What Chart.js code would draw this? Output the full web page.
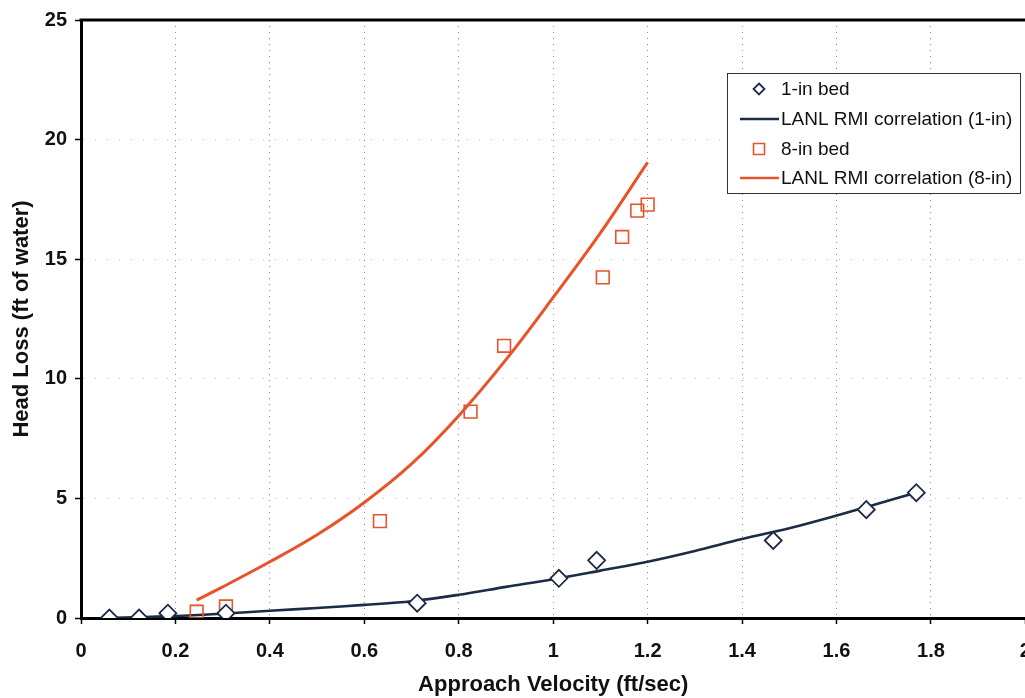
<!DOCTYPE html>
<html>
<head>
<meta charset="utf-8">
<script src="https://cdn.jsdelivr.net/npm/chart.js@4/dist/chart.umd.min.js"></script>
<style>
  html, body { margin: 0; padding: 0; background: #ffffff; overflow: hidden; width: 1025px; height: 698px; }
  #wrap { position: absolute; left: 0; top: 0; width: 1036px; height: 698px; }
</style>
</head>
<body>
<div id="wrap"><canvas id="c" width="1036" height="698"></canvas></div>
<script>
// ---- data ----
const bed1Velocity = [0.06, 0.123, 0.184, 0.307, 0.712, 1.012, 1.092, 1.466, 1.663, 1.769];
const bed1HeadLoss = [0.0, 0.0, 0.2, 0.2, 0.62, 1.66, 2.41, 3.24, 4.53, 5.24];

const corr1Velocity = [0.06, 0.2, 0.3, 0.4, 0.5, 0.6, 0.7, 0.8, 0.9, 1.0, 1.1, 1.2, 1.3, 1.4, 1.5, 1.6, 1.7, 1.78];
const corr1HeadLoss = [0.0, 0.08, 0.18, 0.3, 0.42, 0.55, 0.7, 0.97, 1.3, 1.62, 1.98, 2.35, 2.8, 3.3, 3.75, 4.28, 4.85, 5.3];

const bed8Velocity = [0.245, 0.307, 0.633, 0.825, 0.896, 1.105, 1.146, 1.178, 1.20];
const bed8HeadLoss = [0.26, 0.48, 4.05, 8.63, 11.38, 14.24, 15.93, 17.03, 17.28];

const corr8Velocity = [0.245, 0.3, 0.4, 0.5, 0.6, 0.7, 0.8, 0.9, 1.0, 1.1, 1.2];
const corr8HeadLoss = [0.75, 1.3, 2.35, 3.48, 4.83, 6.44, 8.46, 10.8, 13.4, 16.1, 19.05];

const xTickLabels = ['0', '0.2', '0.4', '0.6', '0.8', '1', '1.2', '1.4', '1.6', '1.8', '2'];
const yTickLabels = ['0', '5', '10', '15', '20', '25'];

const seriesNames = ['1-in bed', 'LANL RMI correlation (1-in)', '8-in bed', 'LANL RMI correlation (8-in)'];
const xTitle = 'Approach Velocity (ft/sec)';
const yTitle = 'Head Loss (ft of water)';

// ---- styling ----
const NAVY = '#1d2b47';
const ORANGE = '#e8532b';
const FONT = 'Liberation Sans, Arial, Helvetica, sans-serif';

const pts = (xs, ys) => xs.map((x, i) => ({ x: x, y: ys[i] }));

const topBorder = {
  id: 'topBorder',
  afterDraw(chart) {
    const { ctx, chartArea } = chart;
    ctx.save();
    ctx.strokeStyle = '#000';
    ctx.lineWidth = 3;
    ctx.beginPath();
    ctx.moveTo(chartArea.left - 1.5, chartArea.top);
    ctx.lineTo(chartArea.right + 5, chartArea.top);
    ctx.stroke();
    ctx.restore();
  }
};

const boxLegend = {
  id: 'boxLegend',
  afterDraw(chart) {
    const ctx = chart.ctx;
    const bx = 727, by = 73, bw = 293, bh = 120;
    ctx.save();
    ctx.fillStyle = '#ffffff';
    ctx.fillRect(bx, by, bw, bh);
    ctx.strokeStyle = '#333';
    ctx.lineWidth = 1;
    ctx.strokeRect(bx + 0.5, by + 0.5, bw, bh);
    const rows = [89, 119, 149, 178];
    ctx.font = '19px ' + FONT;
    ctx.textBaseline = 'middle';
    ctx.textAlign = 'left';
    chart.data.datasets.forEach((ds, i) => {
      const y = rows[i];
      if (ds.showLine) {
        ctx.strokeStyle = ds.borderColor;
        ctx.lineWidth = 2.5;
        ctx.beginPath();
        ctx.moveTo(740, y);
        ctx.lineTo(779, y);
        ctx.stroke();
      } else {
        ctx.save();
        ctx.fillStyle = '#fff';
        ctx.strokeStyle = ds.pointBorderColor;
        ctx.lineWidth = ds.pointBorderWidth;
        ctx.beginPath();
        const r = ds.legendRadius;
        if (ds.pointStyle === 'rectRot') {
          ctx.moveTo(759, y - r); ctx.lineTo(759 + r, y); ctx.lineTo(759, y + r); ctx.lineTo(759 - r, y); ctx.closePath();
        } else {
          ctx.rect(759 - r, y - r, 2 * r, 2 * r);
        }
        ctx.fill();
        ctx.stroke();
        ctx.restore();
      }
      ctx.fillStyle = '#111';
      ctx.fillText(ds.label, 781, y + 1);
    });
    ctx.restore();
  }
};

new Chart(document.getElementById('c'), {
  type: 'scatter',
  data: {
    datasets: [
      {
        label: seriesNames[0],
        data: pts(bed1Velocity, bed1HeadLoss),
        showLine: false,
        pointStyle: 'rectRot',
        pointRadius: 8.5,
        legendRadius: 5.5,
        pointBackgroundColor: '#ffffff',
        pointBorderColor: NAVY,
        pointBorderWidth: 1.8,
        order: 0
      },
      {
        label: seriesNames[1],
        data: pts(corr1Velocity, corr1HeadLoss),
        showLine: true,
        borderColor: NAVY,
        borderWidth: 2.6,
        pointRadius: 0,
        tension: 0.35,
        order: 2
      },
      {
        label: seriesNames[2],
        data: pts(bed8Velocity, bed8HeadLoss),
        showLine: false,
        pointStyle: 'rect',
        pointRadius: 9,
        legendRadius: 5.5,
        pointBackgroundColor: 'rgba(255,255,255,0)',
        pointBorderColor: ORANGE,
        pointBorderWidth: 1.6,
        order: 0
      },
      {
        label: seriesNames[3],
        data: pts(corr8Velocity, corr8HeadLoss),
        showLine: true,
        borderColor: ORANGE,
        borderWidth: 3,
        pointRadius: 0,
        tension: 0.35,
        order: 1
      }
    ]
  },
  options: {
    responsive: false,
    animation: false,
    devicePixelRatio: 1,
    layout: { padding: { top: 17, right: 0, bottom: 0, left: 0 } },
    plugins: {
      legend: { display: false },
      tooltip: { enabled: false }
    },
    scales: {
      x: {
        type: 'linear',
        min: 0,
        max: 2,
        afterFit(scale) { scale.height = 80; scale.paddingRight = 0; },
        ticks: {
          stepSize: 0.2,
          padding: 15,
          color: '#111',
          font: { family: FONT, size: 20, weight: 'bold' },
          callback: (v, i) => xTickLabels[i]
        },
        grid: {
          color: 'rgba(40,40,40,0.55)',
          lineWidth: 1,
          tickColor: '#000',
          tickLength: 6,
          tickWidth: 1.5,
          tickBorderDash: []
        },
        border: { display: true, color: '#000', width: 3, dash: [1, 5] },
        title: {
          display: true,
          text: xTitle,
          color: '#111',
          font: { family: FONT, size: 22, weight: 'bold' },
          padding: { top: 0, bottom: 0 }
        }
      },
      y: {
        type: 'linear',
        min: 0,
        max: 25,
        afterFit(scale) { scale.width = 81; },
        ticks: {
          stepSize: 5,
          padding: 8,
          color: '#111',
          font: { family: FONT, size: 20, weight: 'bold' },
          callback: (v, i) => yTickLabels[i]
        },
        grid: {
          color: 'rgba(40,40,40,0.3)',
          lineWidth: 1,
          tickColor: '#000',
          tickLength: 6,
          tickWidth: 1.5,
          tickBorderDash: []
        },
        border: { display: true, color: '#000', width: 3, dash: [1, 11] },
        title: {
          display: true,
          text: yTitle,
          color: '#111',
          font: { family: FONT, size: 22, weight: 'bold' },
          padding: { top: 9, bottom: 0 }
        }
      }
    }
  },
  plugins: [topBorder, boxLegend]
});
</script>
</body>
</html>
